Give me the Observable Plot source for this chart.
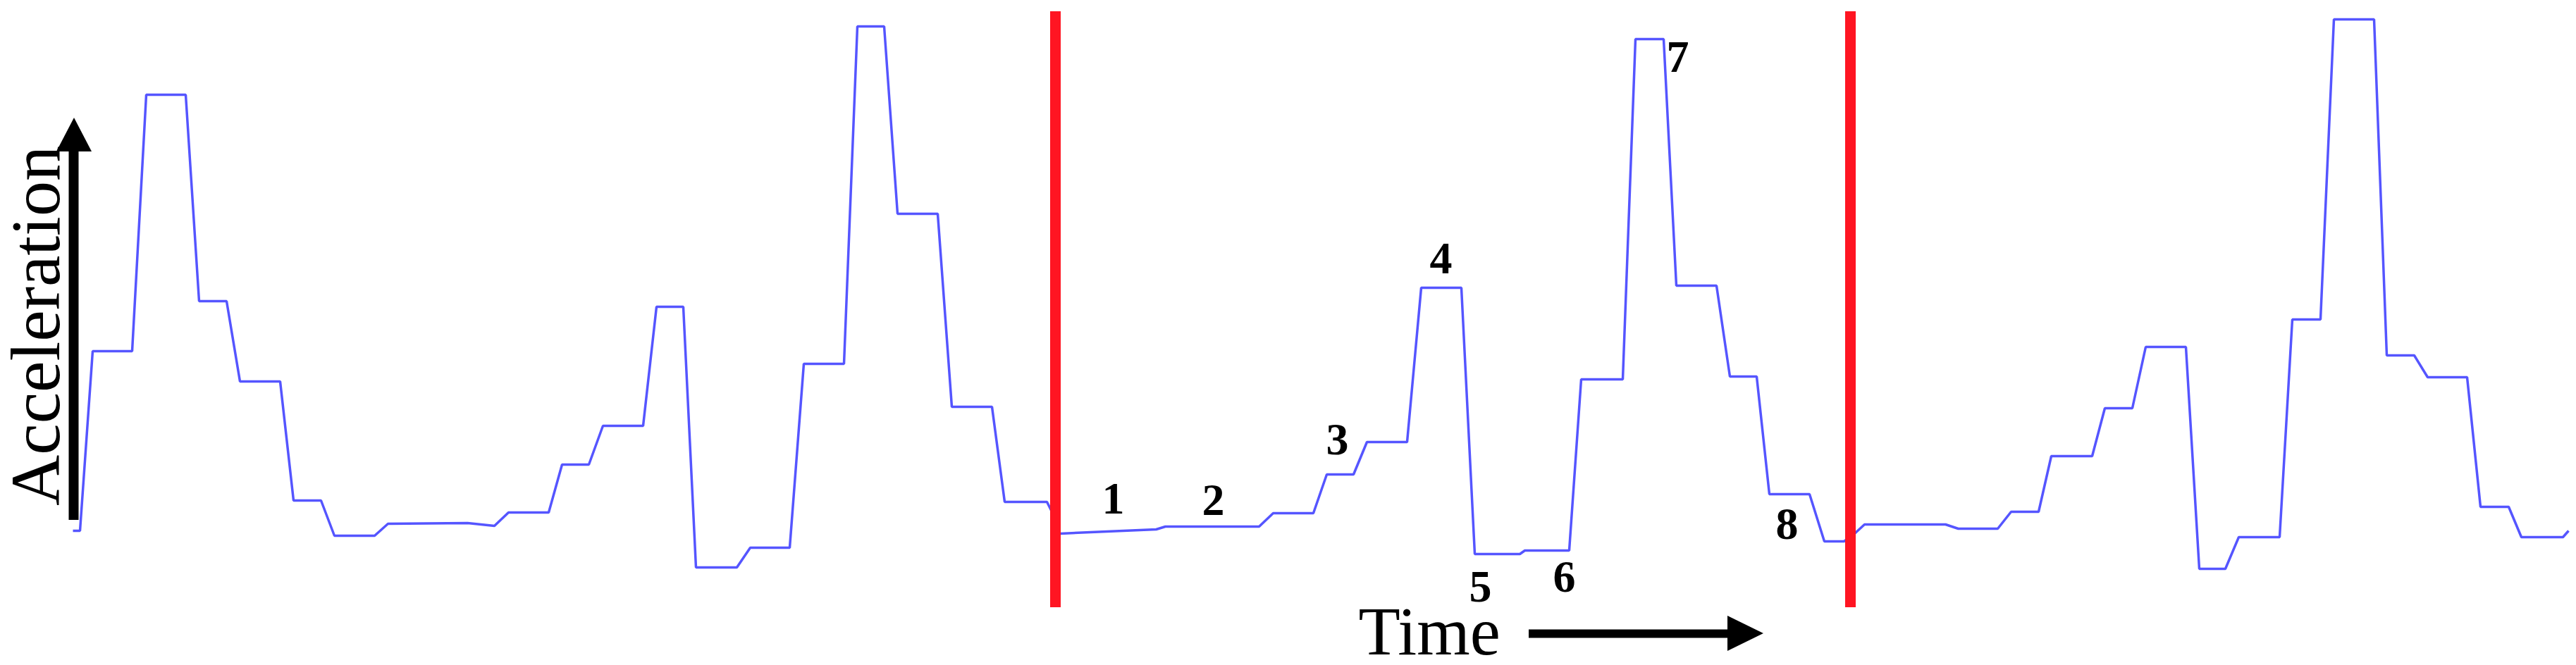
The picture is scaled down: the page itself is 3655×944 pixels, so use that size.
<!DOCTYPE html>
<html>
<head>
<meta charset="utf-8">
<script src="https://cdn.jsdelivr.net/npm/d3@7"></script>
<script src="https://cdn.jsdelivr.net/npm/@observablehq/plot@0.6"></script>
<style>
  html, body { margin: 0; padding: 0; background: #ffffff; }
  #chart svg { display: block; }
</style>
</head>
<body>
<div id="chart"></div>
<script>
// Time (arbitrary units) and acceleration (arbitrary units)
const time = [-2, 8, 26, 82, 102, 158, 177, 216, 235, 292, 311, 350, 369, 426, 445, 558, 596, 616, 673, 692, 730, 750, 807, 826, 864, 882, 940, 959, 1015, 1035, 1092, 1111, 1149, 1168, 1225, 1245, 1302, 1320, 1380, 1388, 1395, 1399, 1465, 1535, 1548, 1681, 1701, 1758, 1777, 1815, 1834, 1891, 1911, 1968, 1987, 2051, 2058, 2121, 2138, 2197, 2215, 2255, 2273, 2330, 2349, 2387, 2405, 2462, 2483, 2511, 2527, 2540, 2655, 2673, 2729, 2748, 2787, 2805, 2863, 2881, 2920, 2939, 2996, 3015, 3052, 3071, 3129, 3147, 3187, 3206, 3263, 3281, 3320, 3339, 3395, 3414, 3454, 3472, 3531, 3539];
const acceleration = [109, 109, 364, 364, 728, 728, 435, 435, 321, 321, 152, 152, 102, 102, 119, 120, 116, 135, 135, 203, 203, 258, 258, 427, 427, 57, 57, 85, 85, 346, 346, 825, 825, 559, 559, 285, 285, 150, 150, 134, 105, 105, 108, 111, 115, 115, 134, 134, 189, 189, 235, 235, 454, 454, 76, 76, 81, 81, 324, 324, 807, 807, 457, 457, 328, 328, 161, 161, 94, 94, 106, 118, 118, 112, 112, 136, 136, 215, 215, 283, 283, 370, 370, 55, 55, 100, 100, 409, 409, 835, 835, 358, 358, 327, 327, 143, 143, 100, 100, 109];

// Cycle boundaries (red lines)
const cycleBoundaries = [1392, 2520];
const boundaryTop = 846;

// Phase labels
const phaseLabels = ["1", "2", "3", "4", "5", "6", "7", "8"];
const phaseTime = [1474, 1616, 1792, 1939, 1995, 2114, 2275, 2430];
const phaseAccel = [154, 152, 238, 495, 29, 43, 781, 118];

// Axis arrows (annotation positions in data units)
const yArrowShaft = {t: -1, from: 124, to: 648};
const yArrowHead = [{a: 647, lo: -25, hi: 25}, {a: 695, lo: 0, hi: 0}];
const xArrowShaft = {a: -37, from: 2064, to: 2348};
const xArrowHead = [{t: 2346, lo: -62, hi: -12}, {t: 2397, lo: -37, hi: -37}];
const yTitle = {text: "Acceleration", t: -54, a: 400};
const xTitle = {text: "Time", t: 1822, a: -35};

const signal = time.map((t, i) => ({t, a: acceleration[i]}));
const labels = phaseLabels.map((s, i) => ({s, t: phaseTime[i], a: phaseAccel[i]}));

const serif = "'Liberation Serif', 'Times New Roman', Times, serif";

const chart = Plot.plot({
  width: 3655,
  height: 944,
  margin: 0,
  style: {background: "#ffffff", fontFamily: serif},
  x: {type: "linear", domain: [-105, 3550], axis: null},
  y: {type: "linear", domain: [-82, 862], axis: null},
  marks: [
    Plot.line(signal, {x: "t", y: "a", stroke: "#5555ff", strokeWidth: 3.5, strokeLinejoin: "miter", strokeLinecap: "butt"}),
    Plot.ruleX(cycleBoundaries, {x: d => d, y1: 0, y2: boundaryTop, stroke: "#ff1522", strokeWidth: 15}),
    Plot.text(labels, {x: "t", y: "a", text: "s", fontSize: 64, fontWeight: "bold", fontFamily: serif, fill: "#000", textAnchor: "middle", lineAnchor: "middle"}),
    // Y-axis arrow
    Plot.ruleX([yArrowShaft], {x: "t", y1: "from", y2: "to", stroke: "#000", strokeWidth: 14}),
    Plot.areaX(yArrowHead, {y: "a", x1: "lo", x2: "hi", fill: "#000"}),
    Plot.text([yTitle], {x: "t", y: "a", text: "text", rotate: -90, fontSize: 100, fontFamily: serif, fill: "#000", textAnchor: "middle", lineAnchor: "middle"}),
    // X-axis arrow
    Plot.ruleY([xArrowShaft], {y: "a", x1: "from", x2: "to", stroke: "#000", strokeWidth: 12}),
    Plot.areaY(xArrowHead, {x: "t", y1: "lo", y2: "hi", fill: "#000"}),
    Plot.text([xTitle], {x: "t", y: "a", text: "text", fontSize: 97, fontFamily: serif, fill: "#000", textAnchor: "start", lineAnchor: "middle"})
  ]
});

document.getElementById("chart").appendChild(chart);
</script>
</body>
</html>
